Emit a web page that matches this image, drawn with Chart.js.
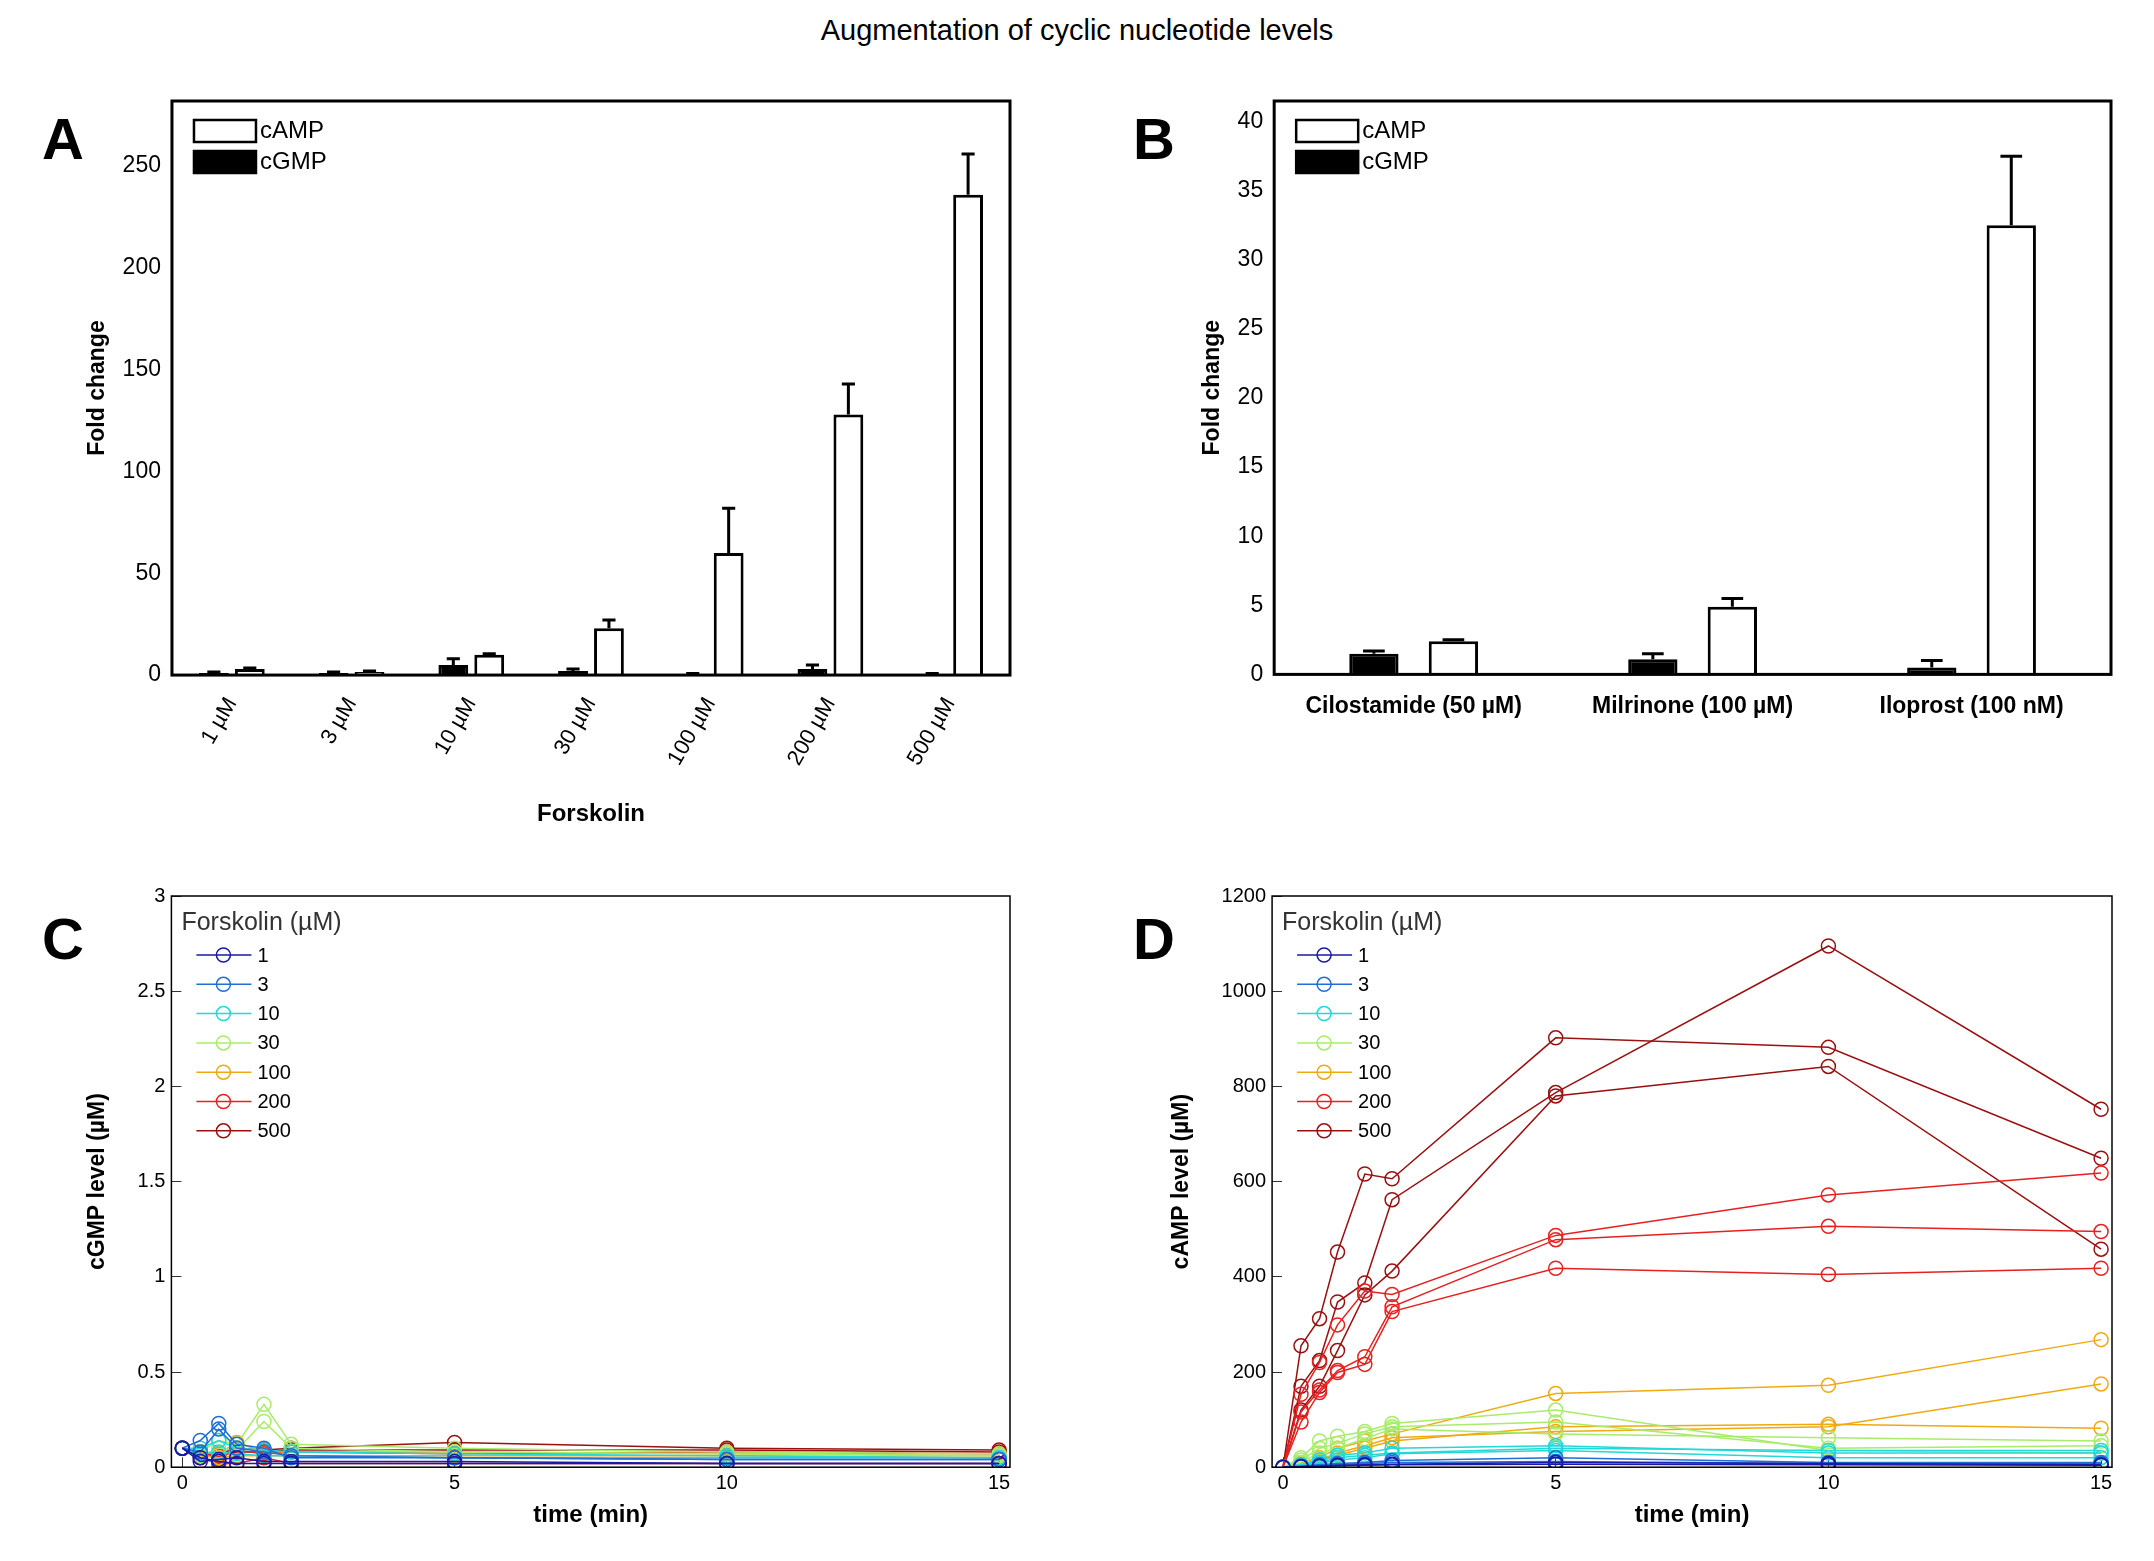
<!DOCTYPE html>
<html><head><meta charset="utf-8">
<script src="https://cdn.jsdelivr.net/npm/chart.js@4"></script>
<style>
body{margin:0;background:#fff;width:2154px;height:1561px;position:relative;font-family:"Liberation Sans",Arial,sans-serif;overflow:hidden}
.p{position:absolute}
.lt{position:absolute;font-weight:bold;font-size:58px;font-family:"Liberation Sans",Arial}
#title{position:absolute;top:14px;left:0;width:2154px;text-align:center;font-size:29px}
</style></head><body>
<div id="title">Augmentation of cyclic nucleotide levels</div>
<div class="lt" style="left:42px;top:105px">A</div>
<div class="lt" style="left:1133px;top:105px">B</div>
<div class="lt" style="left:42px;top:905px">C</div>
<div class="lt" style="left:1133px;top:905px">D</div>
<div class="p" style="left:80px;top:80px;width:980px;height:753px"><canvas id="cA"></canvas></div>
<div class="p" style="left:1195px;top:80px;width:980px;height:660px"><canvas id="cB"></canvas></div>
<div class="p" style="left:80px;top:868px;width:980px;height:666px"><canvas id="cC"></canvas></div>
<div class="p" style="left:1164px;top:868px;width:980px;height:666px"><canvas id="cD"></canvas></div>
<script>
// ---- data ----
const catA = ["1 µM","3 µM","10 µM","30 µM","100 µM","200 µM","500 µM"];
const cgmpA = [1,1,5,2,0.5,3,0.5];
const cgmpAErr = [0.5,0.5,3,1,0.3,2,0.3];
const campA = [3,1.5,10,23,60,128,236];
const campAErr = [0.5,0.5,0.5,4,22,15,20];
const catB = ["Cilostamide (50 µM)","Milrinone (100 µM)","Iloprost (100 nM)"];
const cgmpB = [1.5,1.1,0.5];
const cgmpBErr = [0.2,0.4,0.5];
const campB = [2.4,4.9,32.5];
const campBErr = [0.1,0.6,5];
const times = [0,0.33,0.67,1,1.5,2,5,10,15];
const concs = ["1","3","10","30","100","200","500"];
const colors = ["#1a1aa8","#1f6fd6","#22d8d8","#a8ec6a","#f0aa10","#e82020","#9a1010"];
// cGMP replicates per concentration
const cgmp1 = [[0.10,0.03,0.04,0.05,0.03,0.03,0.03,0.02,0.02],[0.10,0.05,0.03,0.02,0.02,0.02,0.02,0.02,0.02]];
const cgmp3 = [[0.10,0.14,0.23,0.12,0.10,0.05,0.05,0.04,0.04],[0.10,0.08,0.20,0.10,0.08,0.06,0.05,0.04,0.04]];
const cgmp10 = [[0.10,0.10,0.14,0.10,0.09,0.08,0.07,0.06,0.05],[0.10,0.07,0.08,0.07,0.06,0.06,0.05,0.05,0.05]];
const cgmp30 = [[0.10,0.08,0.14,0.12,0.33,0.12,0.10,0.08,0.07],[0.10,0.06,0.10,0.09,0.24,0.10,0.08,0.07,0.06]];
const cgmp100 = [[0.10,0.08,0.07,0.13,0.08,0.08,0.08,0.07,0.06],[0.10,0.06,0.05,0.06,0.06,0.06,0.06,0.06,0.05]];
const cgmp200 = [[0.10,0.05,0.02,0.02,0.05,0.02,0.02,0.02,0.02],[0.10,0.07,0.06,0.09,0.07,0.08,0.07,0.08,0.07]];
const cgmp500 = [[0.10,0.08,0.07,0.10,0.09,0.10,0.13,0.10,0.09],[0.10,0.07,0.06,0.08,0.08,0.09,0.09,0.09,0.08]];
// cAMP replicates per concentration
const camp1 = [[0,1,2,4,5,6,10,8,5],[0,1,2,3,4,5,6,5,4]];
const camp3 = [[0,2,5,8,10,14,20,10,10],[0,2,4,6,8,10,12,8,8]];
const camp10 = [[0,5,15,25,30,40,45,30,30],[0,5,10,20,25,30,40,35,35],[0,3,8,15,20,28,35,20,20]];
const camp30 = [[0,20,55,65,75,92,120,35,30],[0,15,40,50,70,85,95,40,45],[0,10,30,40,60,80,70,62,55]];
const camp100 = [[0,10,20,40,55,70,155,172,268],[0,8,15,30,45,62,75,85,175],[0,5,12,25,40,55,85,90,82]];
const camp200 = [[0,153,220,299,370,363,487,572,618],[0,116,162,203,232,337,478,506,495],[0,95,157,199,216,327,418,405,418]];
const camp500 = [[0,255,312,452,616,606,902,882,649],[0,170,224,347,387,562,787,1095,752],[0,120,170,245,362,412,780,842,458]];
const cgmpSets = [cgmp1,cgmp3,cgmp10,cgmp30,cgmp100,cgmp200,cgmp500];
const campSets = [camp1,camp3,camp10,camp30,camp100,camp200,camp500];

const FONT = '"Liberation Sans", Arial, sans-serif';
Chart.defaults.font.family = FONT;
Chart.defaults.color = '#000';
Chart.defaults.animation = false;

function stepTicks(max,step){return function(s){const t=[];for(let v=0;v<=max+1e-9;v+=step)t.push({value:+v.toFixed(2)});s.ticks=t;};}
const boxPlugin = {id:'box', afterDraw(c){const a=c.chartArea,x=c.ctx;x.save();x.strokeStyle='#000';x.lineWidth=c.options.plugins.box.w||3;x.strokeRect(a.left,a.top,a.right-a.left,a.bottom-a.top);x.restore();}};
const errPlugin = {id:'err', afterDatasetsDraw(c){const x=c.ctx;x.save();x.strokeStyle='#000';x.lineWidth=3;
  c.data.datasets.forEach((ds,i)=>{const m=c.getDatasetMeta(i);m.data.forEach((b,j)=>{const v=ds.data[j],e=ds.err[j];const y1=c.scales.y.getPixelForValue(v+e);const w=b.width*0.22;
    x.beginPath();x.moveTo(b.x,b.y);x.lineTo(b.x,y1);x.moveTo(b.x-w,y1);x.lineTo(b.x+w,y1);x.stroke();});});x.restore();}};
const barLegend = {id:'blg', afterDraw(c){const a=c.chartArea,x=c.ctx;x.save();x.font='24px '+FONT;x.textBaseline='middle';
  [['cAMP','#fff'],['cGMP','#000']].forEach((it,i)=>{const y=a.top+30+i*31;x.fillStyle=it[1];x.fillRect(a.left+22,y-11,62,22);x.strokeStyle='#000';x.lineWidth=2.5;x.strokeRect(a.left+22,y-11,62,22);x.fillStyle='#000';x.fillText(it[0],a.left+88,y);});x.restore();}};
const lineLegend = {id:'llg', afterDraw(c){const a=c.chartArea,x=c.ctx;x.save();x.font='25px '+FONT;x.textBaseline='middle';x.fillStyle='#333';
  x.fillText('Forskolin (µM)',a.left+10,a.top+27);x.font='20px '+FONT;
  concs.forEach((t,i)=>{const y=a.top+59+i*29.3;x.strokeStyle=colors[i];x.lineWidth=1.5;x.beginPath();x.moveTo(a.left+25,y);x.lineTo(a.left+80,y);x.stroke();x.beginPath();x.arc(a.left+52,y,7,0,Math.PI*2);x.stroke();x.fillStyle='#000';x.fillText(t,a.left+86,y+1);});x.restore();}};

function barChart(id,cats,g,ge,m,me,max,step,cp,bp,rot,xtitle,pad){
  return new Chart(document.getElementById(id),{type:'bar',
    data:{labels:cats,datasets:[
      {label:'cGMP',data:g,err:ge,backgroundColor:'#000',borderColor:'#000',borderWidth:3,categoryPercentage:cp,barPercentage:bp},
      {label:'cAMP',data:m,err:me,backgroundColor:'#fff',borderColor:'#000',borderWidth:3,categoryPercentage:cp,barPercentage:bp}]},
    options:{responsive:true,maintainAspectRatio:false,layout:{padding:pad},
      plugins:{legend:{display:false},tooltip:{enabled:false},box:{w:3}},
      scales:{x:{grid:{display:false},border:{display:false},ticks:{font:{size:rot?22:23,weight:rot?'normal':'bold'},maxRotation:rot,minRotation:rot,color:'#000',padding:10,autoSkip:false},
          title:{display:!!xtitle,text:xtitle,font:{size:24,weight:'bold'},padding:{top:20}}},
        y:{min:0,max:max,afterBuildTicks:stepTicks(max-1,step),grid:{display:false},border:{display:false},ticks:{font:{size:23},color:'#000',callback:v=>String(v)},
          title:{display:true,text:'Fold change',font:{size:23,weight:'bold'},padding:{bottom:8}}}}},
    plugins:[boxPlugin,errPlugin,barLegend]});
}
barChart('cA',catA,cgmpA,cgmpAErr,campA,campAErr,282,50,0.6,0.83,60,'Forskolin',{left:0,right:50,top:21,bottom:0});
barChart('cB',catB,cgmpB,cgmpBErr,campB,campBErr,41.5,5,0.57,0.62,0,'',{left:0,right:64,top:21,bottom:10});

function lineChart(id,sets,max,step,ytitle,rp){
  const ds=[];sets.forEach((reps,i)=>reps.forEach(r=>ds.push({data:times.map((t,k)=>({x:t,y:r[k]})),borderColor:colors[i],borderWidth:1.5,pointRadius:7,pointBorderWidth:1.5,pointBackgroundColor:'rgba(0,0,0,0)',pointBorderColor:colors[i],fill:false,tension:0})));
  return new Chart(document.getElementById(id),{type:'line',data:{datasets:ds},
    options:{responsive:true,maintainAspectRatio:false,layout:{padding:{left:0,right:rp,top:20,bottom:0}},
      plugins:{legend:{display:false},tooltip:{enabled:false},box:{w:1.5}},
      scales:{x:{type:'linear',min:-0.2,max:15.2,afterBuildTicks(s){s.ticks=[0,5,10,15].map(v=>({value:v}));},grid:{drawOnChartArea:false,tickLength:-10,color:'#333'},border:{display:false},ticks:{font:{size:20},color:'#000',padding:14,callback:v=>String(v)},
          title:{display:true,text:'time (min)',font:{size:24,weight:'bold'},padding:{top:-8}}},
        y:{min:0,max:max,afterBuildTicks:stepTicks(max,step),grid:{drawOnChartArea:false,tickLength:-10,color:'#333'},border:{display:false},ticks:{font:{size:20},color:'#000',padding:16,callback:v=>String(v)},
          title:{display:true,text:ytitle,font:{size:23,weight:'bold'},padding:{bottom:10}}}}},
    plugins:[boxPlugin,lineLegend]});
}
lineChart('cC',cgmpSets,3,0.5,'cGMP level (µM)',50);
lineChart('cD',campSets,1200,200,'cAMP level (µM)',32);
</script></body></html>
